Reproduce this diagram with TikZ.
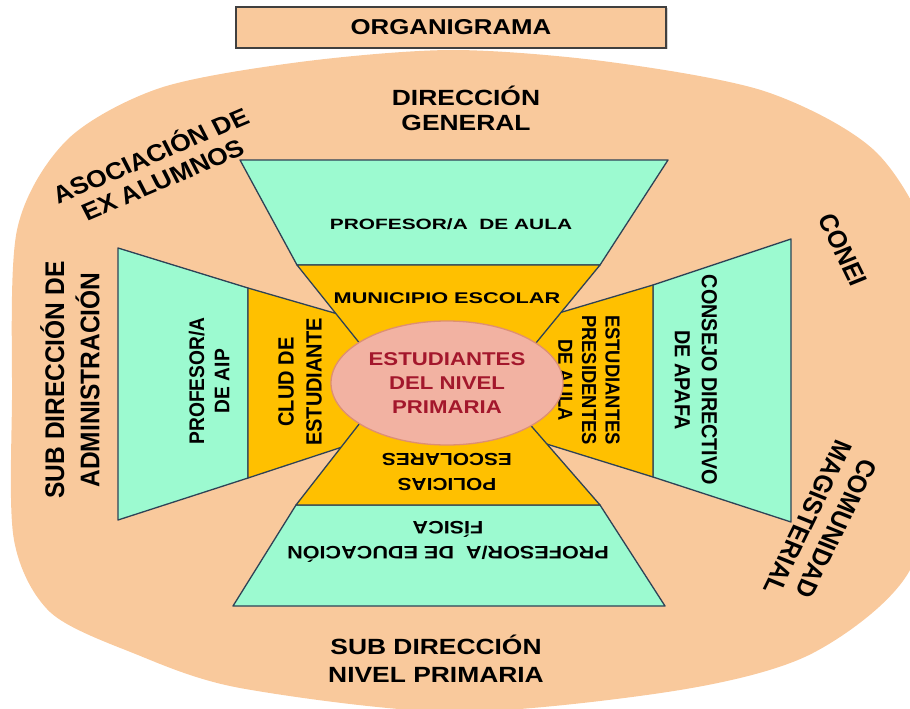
\documentclass[tikz,border=0pt]{standalone}
\usepackage{fontspec}
\setmainfont{Liberation Sans}
\newfontfamily\wfont{Liberation Sans}[FakeStretch=1.2]
\newfontfamily\xwfont{Liberation Sans}[FakeStretch=1.4]
\usetikzlibrary{shapes.geometric,shadows}
\definecolor{peach}{HTML}{F9C99C}
\definecolor{aqua}{HTML}{9CFAD0}
\definecolor{gold}{HTML}{FFC000}
\definecolor{edge}{HTML}{2E4256}
\definecolor{bubble}{HTML}{F2B2A2}
\definecolor{bubbleedge}{HTML}{DE8F72}
\definecolor{wine}{HTML}{A3172C}
\tikzset{
    outer/.style = {draw=edge, fill=aqua, line width=1.3pt, line join=round},
    inner/.style = {draw=edge, fill=gold, line width=1.3pt, line join=round},
    titlebox/.style = {draw=black!75, fill=peach, line width=1.3pt,
        minimum width=430pt, minimum height=41pt,
        drop shadow={shadow xshift=1.5pt, shadow yshift=-1.5pt, opacity=0.35}},
    core/.style = {ellipse, draw=bubbleedge, fill=bubble, line width=1.3pt,
        minimum width=232pt, minimum height=124pt, inner sep=0pt,
        text=wine, align=center, font=\wfont\bfseries\fontsize{18.5}{24}\selectfont},
    hlabel/.style 2 args = {align=center, inner sep=0pt,
        font=\wfont\bfseries\fontsize{#1}{#2}\selectfont},
    xlabel/.style 2 args = {align=center, inner sep=0pt,
        font=\xwfont\bfseries\fontsize{#1}{#2}\selectfont},
    vlabel/.style 2 args = {align=center, inner sep=0pt, xscale=1.1,
        font=\bfseries\fontsize{#1}{#2}\selectfont}
}

\begin{document}
\begin{tikzpicture}[x=1pt, y=-1pt]
    \useasboundingbox (0,0) rectangle (910,709);
    % background
    \begin{scope}
        \clip (0,0) rectangle (910,709);
        \fill[peach] plot[smooth cycle] coordinates {
            (12,400) (17,230) (67,140) (160,88) (300,62) (453,50) (610,62)
            (767,92) (877,153) (935,260) (940,420) (910,570) (813,653)
            (680,690) (455,712) (240,688) (133,653) (50,612) (14,540)};
    \end{scope}

    \node[titlebox] (box) at (451,27.5) {};
    \node[hlabel={21.5}{25}] (title) at (box) {ORGANIGRAMA};

    % outer boxes
    \draw[outer] (240,160) -- (668,160) -- (600,265) -- (297,265) -- cycle;
    \draw[outer] (118,248) -- (248,288) -- (248,478) -- (118,520) -- cycle;
    \draw[outer] (653,285) -- (791,239) -- (791,522) -- (653,477) -- cycle;
    \draw[outer] (296,505) -- (600,505) -- (665,606) -- (233,606) -- cycle;
    % inner boxes
    \draw[inner] (248,288) -- (400,332) -- (400,428) -- (248,478) -- cycle;
    \draw[inner] (653,285) -- (495,332) -- (495,428) -- (653,477) -- cycle;
    \draw[inner] (297,265) -- (600,265) -- (522,360) -- (373,360) -- cycle;
    \draw[inner] (296,505) -- (600,505) -- (513,405) -- (374,405) -- cycle;

    \node[hlabel={22}{25}] (dirgen) at (466,108.5) {DIRECCIÓN\\GENERAL};
    \node[hlabel={22}{28}] (subprim) at (436,659) {SUB DIRECCIÓN\\NIVEL PRIMARIA};
    \node[vlabel={24.5}{32}, rotate=90] (subadm) at (70,380) {SUB DIRECCIÓN DE\\ADMINISTRACIÓN};
    \node[vlabel={24}{27}, rotate=25] (exalum) at (156,166) {ASOCIACIÓN DE\\EX ALUMNOS};
    \node[vlabel={24}{30}, rotate=-66] (conei) at (843,250) {CONEI};
    \node[vlabel={24}{28}, rotate=-114] (comag) at (822,523) {COMUNIDAD\\MAGISTERIAL};

    \node[xlabel={14.9}{18}] (aula) at (451,224) {PROFESOR/A\ \ DE AULA};
    \node[xlabel={15.5}{18}] (munic) at (447,298) {MUNICIPIO ESCOLAR};
    \node[vlabel={19.2}{23}, rotate=90] (aip) at (209,381) {PROFESOR/A\\DE AIP};
    \node[vlabel={20}{25.5}, rotate=90] (club) at (300,382) {CLUD DE\\ESTUDIANTE};
    \node[vlabel={18.4}{21.5}, rotate=-90] (presid) at (589,380) {ESTUDIANTES\\PRESIDENTES\\DE AULA};
    \node[vlabel={19.8}{24.5}, rotate=-90] (apafa) at (696,380) {CONSEJO DIRECTIVO\\DE APAFA};
    \node[hlabel={17.4}{25}, rotate=180] (polic) at (447,471.5) {POLICIAS\\ESCOLARES};
    \node[hlabel={18}{25}, rotate=180] (edfis) at (448,541.5) {PROFESOR/A\ \ DE EDUCACIÓN\\FÍSICA};

    \node[core] (alumnos) at (447,383) {ESTUDIANTES\\DEL NIVEL\\PRIMARIA};
\end{tikzpicture}
\end{document}
